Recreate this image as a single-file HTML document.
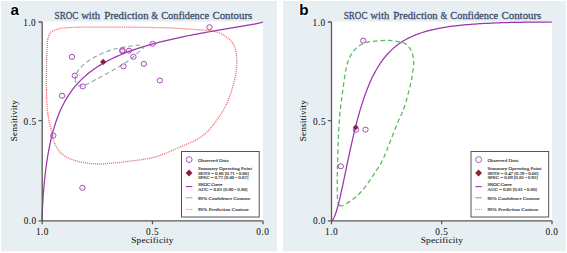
<!DOCTYPE html>
<html><head><meta charset="utf-8"><style>
html,body{margin:0;padding:0;background:#fff;width:567px;height:253px;overflow:hidden}
svg{position:absolute;left:0;top:0}
text{font-family:"Liberation Serif",serif}
.pl{font-family:"Liberation Sans",sans-serif;font-weight:bold;font-size:15.2px;fill:#000;stroke:#fff;stroke-width:2.2px;stroke-opacity:0.75;paint-order:stroke}
.ti{font-size:10.7px;fill:#3c4a6c;stroke:#3c4a6c;stroke-width:0.26px}
.tk{font-size:9.3px;letter-spacing:0.45px;fill:#111;stroke:#222;stroke-width:0.06px}
.al{font-size:9.2px;fill:#111;stroke:#222;stroke-width:0.06px}
.lg{font-size:5.0px;fill:#222;stroke:#222;stroke-width:0.1px}
</style></head><body>
<svg width="567" height="253" viewBox="0 0 567 253">
<rect x="1" y="1" width="276" height="250.5" fill="#e8eff2"/>
<rect x="283" y="1" width="282.8" height="250.5" fill="#e8eff2"/>
<rect x="42" y="21.6" width="221" height="199" fill="#fff"/>
<rect x="331.5" y="21.6" width="220.5" height="199" fill="#fff"/>
<text class="pl" x="10.5" y="14.8">a</text>
<text class="pl" x="299.3" y="15">b</text>
<text class="ti" x="54.60" y="18.8" textLength="23.87" lengthAdjust="spacingAndGlyphs">SROC</text><text class="ti" x="81.15" y="18.8" textLength="19.02" lengthAdjust="spacingAndGlyphs">with</text><text class="ti" x="104.20" y="18.8" textLength="44.39" lengthAdjust="spacingAndGlyphs">Prediction</text><text class="ti" x="151.35" y="18.8" textLength="6.78" lengthAdjust="spacingAndGlyphs">&amp;</text><text class="ti" x="161.20" y="18.8" textLength="47.82" lengthAdjust="spacingAndGlyphs">Confidence</text><text class="ti" x="212.40" y="18.8" textLength="39.85" lengthAdjust="spacingAndGlyphs">Contours</text>
<text class="ti" x="343.70" y="18.8" textLength="23.87" lengthAdjust="spacingAndGlyphs">SROC</text><text class="ti" x="370.25" y="18.8" textLength="19.02" lengthAdjust="spacingAndGlyphs">with</text><text class="ti" x="393.30" y="18.8" textLength="44.39" lengthAdjust="spacingAndGlyphs">Prediction</text><text class="ti" x="440.45" y="18.8" textLength="6.78" lengthAdjust="spacingAndGlyphs">&amp;</text><text class="ti" x="450.30" y="18.8" textLength="47.82" lengthAdjust="spacingAndGlyphs">Confidence</text><text class="ti" x="501.50" y="18.8" textLength="39.85" lengthAdjust="spacingAndGlyphs">Contours</text>
<!-- left plot -->
<path d="M46.50,90.00 C46.33,81.33 46.50,66.90 46.60,60.00 C46.70,53.10 46.93,51.83 47.10,48.60 C47.27,45.37 47.20,42.98 47.60,40.60 C48.00,38.22 48.65,35.88 49.50,34.30 C50.35,32.72 51.12,32.03 52.70,31.10 C54.28,30.17 56.35,29.28 59.00,28.70 C61.65,28.12 63.83,27.87 68.60,27.60 C73.37,27.33 79.03,27.18 87.60,27.10 C96.17,27.02 110.43,27.05 120.00,27.10 C129.57,27.15 137.07,27.27 145.00,27.40 C152.93,27.53 159.87,27.60 167.60,27.90 C175.33,28.20 183.53,28.60 191.40,29.20 C199.27,29.80 209.27,30.40 214.80,31.50 C220.33,32.60 221.80,34.10 224.60,35.80 C227.40,37.50 229.78,39.40 231.60,41.70 C233.42,44.00 234.63,46.63 235.50,49.60 C236.37,52.57 236.65,56.18 236.80,59.50 C236.95,62.82 237.00,65.20 236.40,69.50 C235.80,73.80 234.87,79.50 233.20,85.30 C231.53,91.10 229.52,97.97 226.40,104.30 C223.28,110.63 218.87,117.78 214.50,123.30 C210.13,128.82 206.68,133.12 200.20,137.40 C193.72,141.68 183.47,145.65 175.60,149.00 C167.73,152.35 160.93,155.43 153.00,157.50 C145.07,159.57 135.17,160.43 128.00,161.40 C120.83,162.37 115.45,162.88 110.00,163.30 C104.55,163.72 100.70,164.25 95.30,163.90 C89.90,163.55 82.90,162.65 77.60,161.20 C72.30,159.75 67.27,158.07 63.50,155.20 C59.73,152.33 57.10,148.45 55.00,144.00 C52.90,139.55 52.13,133.83 50.90,128.50 C49.67,123.17 48.33,118.42 47.60,112.00 C46.87,105.58 46.67,98.67 46.50,90.00 Z" fill="none" stroke="#f2636b" stroke-width="1.3" stroke-dasharray="1.05 0.95"/>
<path d="M75.30,80.60 C74.98,78.53 75.35,75.75 76.60,73.20 C77.85,70.65 79.63,68.07 82.80,65.30 C85.97,62.53 90.63,59.23 95.60,56.60 C100.57,53.97 106.92,51.23 112.60,49.50 C118.28,47.77 125.10,46.92 129.70,46.20 C134.30,45.48 137.82,45.07 140.20,45.20 C142.58,45.33 143.87,46.20 144.00,47.00 C144.13,47.80 143.38,47.87 141.00,50.00 C138.62,52.13 134.43,56.40 129.70,59.80 C124.97,63.20 118.28,67.10 112.60,70.40 C106.92,73.70 100.03,77.23 95.60,79.60 C91.17,81.97 88.85,83.60 86.00,84.60 C83.15,85.60 80.28,86.27 78.50,85.60 C76.72,84.93 75.62,82.67 75.30,80.60 Z" fill="none" stroke="#8fa9a4" stroke-width="1.1" stroke-dasharray="4.5 3"/>
<path d="M42.00,220.50 L42.00,220.14 L42.00,220.12 L42.01,220.09 L42.01,220.07 L42.01,220.04 L42.01,220.01 L42.01,219.98 L42.01,219.95 L42.01,219.92 L42.01,219.88 L42.01,219.84 L42.01,219.80 L42.01,219.76 L42.01,219.72 L42.01,219.67 L42.01,219.62 L42.02,219.56 L42.02,219.51 L42.02,219.44 L42.02,219.38 L42.02,219.31 L42.02,219.24 L42.02,219.16 L42.03,219.08 L42.03,218.99 L42.03,218.90 L42.03,218.80 L42.04,218.70 L42.04,218.59 L42.04,218.48 L42.04,218.35 L42.05,218.22 L42.05,218.08 L42.06,217.94 L42.06,217.78 L42.07,217.62 L42.07,217.44 L42.08,217.26 L42.08,217.06 L42.09,216.85 L42.10,216.64 L42.10,216.40 L42.11,216.16 L42.12,215.90 L42.13,215.62 L42.14,215.33 L42.15,215.02 L42.16,214.69 L42.18,214.34 L42.19,213.98 L42.21,213.59 L42.22,213.18 L42.24,212.75 L42.26,212.29 L42.28,211.81 L42.30,211.30 L42.33,210.76 L42.36,210.19 L42.38,209.59 L42.41,208.96 L42.45,208.29 L42.48,207.59 L42.52,206.85 L42.56,206.07 L42.61,205.25 L42.66,204.38 L42.71,203.47 L42.77,202.52 L42.83,201.51 L42.89,200.46 L42.97,199.36 L43.04,198.20 L43.13,196.98 L43.22,195.71 L43.31,194.38 L43.42,192.99 L43.53,191.53 L43.66,190.02 L43.79,188.43 L43.93,186.78 L44.09,185.06 L44.25,183.28 L44.43,181.42 L44.63,179.49 L44.84,177.49 L45.07,175.42 L45.31,173.28 L45.58,171.06 L45.86,168.77 L46.17,166.42 L46.50,163.99 L46.86,161.49 L47.25,158.93 L47.67,156.31 L48.13,153.62 L48.62,150.87 L49.15,148.06 L49.72,145.20 L50.34,142.28 L51.00,139.32 L51.72,136.32 L52.50,133.27 L53.34,130.19 L55.55,122.96 L57.76,116.74 L59.97,111.31 L62.18,106.51 L64.39,102.21 L66.60,98.34 L68.81,94.83 L71.02,91.62 L73.23,88.68 L75.44,85.96 L77.65,83.44 L79.86,81.09 L82.07,78.90 L84.28,76.85 L86.49,74.92 L88.70,73.10 L90.91,71.39 L93.12,69.76 L95.33,68.22 L97.54,66.76 L99.75,65.36 L101.96,64.03 L104.17,62.76 L106.38,61.55 L108.59,60.39 L110.80,59.27 L113.01,58.20 L115.22,57.16 L117.43,56.17 L119.64,55.21 L121.85,54.29 L124.06,53.40 L126.27,52.53 L128.48,51.70 L130.69,50.89 L132.90,50.11 L135.11,49.35 L137.32,48.61 L139.53,47.89 L141.74,47.19 L143.95,46.51 L146.16,45.85 L148.37,45.21 L150.58,44.58 L152.79,43.96 L155.00,43.37 L157.21,42.78 L159.42,42.21 L161.63,41.65 L163.84,41.10 L166.05,40.57 L168.26,40.05 L170.47,39.53 L172.68,39.03 L174.89,38.53 L177.10,38.05 L179.31,37.57 L181.52,37.10 L183.73,36.64 L185.94,36.19 L188.15,35.74 L190.36,35.30 L192.57,34.87 L194.78,34.44 L196.99,34.02 L199.20,33.61 L201.41,33.20 L203.62,32.79 L205.83,32.39 L208.04,32.00 L210.25,31.60 L212.46,31.22 L214.67,30.83 L216.88,30.45 L219.09,30.07 L221.30,29.70 L223.51,29.32 L225.72,28.95 L227.93,28.58 L230.14,28.21 L232.35,27.84 L234.56,27.48 L236.77,27.11 L238.98,26.74 L241.19,26.37 L243.40,25.99 L245.61,25.62 L247.82,25.23 L250.03,24.85 L252.24,24.45 L254.45,24.04 L256.66,23.60 L258.87,23.14 L261.08,22.63 L263.00,22.00" fill="none" stroke="#9a36aa" stroke-width="1.25"/>
<ellipse cx="71.9" cy="56.9" rx="2.7" ry="2.5" fill="none" stroke="#a848b8" stroke-width="1.0"/><circle cx="71.9" cy="56.9" r="0.6" fill="#a848b8" opacity="0.35"/><ellipse cx="74.8" cy="75.6" rx="2.7" ry="2.5" fill="none" stroke="#a848b8" stroke-width="1.0"/><circle cx="74.8" cy="75.6" r="0.6" fill="#a848b8" opacity="0.35"/><ellipse cx="82.7" cy="86.4" rx="2.7" ry="2.5" fill="none" stroke="#a848b8" stroke-width="1.0"/><circle cx="82.7" cy="86.4" r="0.6" fill="#a848b8" opacity="0.35"/><ellipse cx="53.3" cy="135.6" rx="2.7" ry="2.5" fill="none" stroke="#a848b8" stroke-width="1.0"/><circle cx="53.3" cy="135.6" r="0.6" fill="#a848b8" opacity="0.35"/><ellipse cx="62" cy="95.7" rx="2.7" ry="2.5" fill="none" stroke="#a848b8" stroke-width="1.0"/><circle cx="62" cy="95.7" r="0.6" fill="#a848b8" opacity="0.35"/><ellipse cx="82.4" cy="187.8" rx="2.7" ry="2.5" fill="none" stroke="#a848b8" stroke-width="1.0"/><circle cx="82.4" cy="187.8" r="0.6" fill="#a848b8" opacity="0.35"/><ellipse cx="122.2" cy="50.4" rx="2.7" ry="2.5" fill="none" stroke="#a848b8" stroke-width="1.0"/><circle cx="122.2" cy="50.4" r="0.6" fill="#a848b8" opacity="0.35"/><ellipse cx="122.6" cy="51.3" rx="2.7" ry="2.5" fill="none" stroke="#a848b8" stroke-width="1.0"/><circle cx="122.6" cy="51.3" r="0.6" fill="#a848b8" opacity="0.35"/><ellipse cx="129" cy="50.7" rx="2.7" ry="2.5" fill="none" stroke="#a848b8" stroke-width="1.0"/><circle cx="129" cy="50.7" r="0.6" fill="#a848b8" opacity="0.35"/><ellipse cx="133.4" cy="56.8" rx="2.7" ry="2.5" fill="none" stroke="#a848b8" stroke-width="1.0"/><circle cx="133.4" cy="56.8" r="0.6" fill="#a848b8" opacity="0.35"/><ellipse cx="123.5" cy="66.3" rx="2.7" ry="2.5" fill="none" stroke="#a848b8" stroke-width="1.0"/><circle cx="123.5" cy="66.3" r="0.6" fill="#a848b8" opacity="0.35"/><ellipse cx="143.9" cy="63.9" rx="2.7" ry="2.5" fill="none" stroke="#a848b8" stroke-width="1.0"/><circle cx="143.9" cy="63.9" r="0.6" fill="#a848b8" opacity="0.35"/><ellipse cx="152.7" cy="43.8" rx="2.7" ry="2.5" fill="none" stroke="#a848b8" stroke-width="1.0"/><circle cx="152.7" cy="43.8" r="0.6" fill="#a848b8" opacity="0.35"/><ellipse cx="159.9" cy="80.5" rx="2.7" ry="2.5" fill="none" stroke="#a848b8" stroke-width="1.0"/><circle cx="159.9" cy="80.5" r="0.6" fill="#a848b8" opacity="0.35"/><ellipse cx="209.5" cy="27.2" rx="2.7" ry="2.5" fill="none" stroke="#a848b8" stroke-width="1.0"/><circle cx="209.5" cy="27.2" r="0.6" fill="#a848b8" opacity="0.35"/>
<path d="M103.2,58.699999999999996 L106.4,61.9 L103.2,65.1 L100.0,61.9 Z" fill="#85203d"/>
<!-- right plot -->
<path d="M340.20,205.60 C338.68,205.08 338.20,203.93 337.70,200.50 C337.20,197.07 337.23,190.92 337.20,185.00 C337.17,179.08 337.32,172.50 337.50,165.00 C337.68,157.50 337.97,147.83 338.30,140.00 C338.63,132.17 339.05,124.17 339.50,118.00 C339.95,111.83 340.48,107.33 341.00,103.00 C341.52,98.67 342.02,96.17 342.60,92.00 C343.18,87.83 343.80,82.42 344.50,78.00 C345.20,73.58 345.83,69.17 346.80,65.50 C347.77,61.83 348.82,58.82 350.30,56.00 C351.78,53.18 353.75,50.55 355.70,48.60 C357.65,46.65 359.53,45.47 362.00,44.30 C364.47,43.13 366.12,42.27 370.50,41.60 C374.88,40.93 382.88,40.12 388.30,40.30 C393.72,40.48 399.72,41.72 403.00,42.70 C406.28,43.68 406.63,44.87 408.00,46.20 C409.37,47.53 410.35,48.95 411.20,50.70 C412.05,52.45 412.70,54.38 413.10,56.70 C413.50,59.02 413.75,61.38 413.60,64.60 C413.45,67.82 412.77,72.43 412.20,76.00 C411.63,79.57 411.60,80.58 410.20,86.00 C408.80,91.42 405.92,102.33 403.80,108.50 C401.68,114.67 399.80,117.42 397.50,123.00 C395.20,128.58 392.42,135.95 390.00,142.00 C387.58,148.05 385.28,154.52 383.00,159.30 C380.72,164.08 379.88,165.35 376.30,170.70 C372.72,176.05 366.42,185.92 361.50,191.40 C356.58,196.88 350.35,201.23 346.80,203.60 C343.25,205.97 341.72,206.12 340.20,205.60 Z" fill="none" stroke="#58b858" stroke-width="1.25" stroke-dasharray="4.5 3"/>
<path d="M331.50,220.50 L331.50,220.50 L331.50,220.50 L331.51,220.50 L331.51,220.50 L331.51,220.50 L331.51,220.50 L331.51,220.50 L331.51,220.50 L331.51,220.50 L331.51,220.50 L331.51,220.50 L331.51,220.50 L331.51,220.50 L331.51,220.50 L331.51,220.50 L331.51,220.50 L331.52,220.50 L331.52,220.50 L331.52,220.50 L331.52,220.50 L331.52,220.50 L331.52,220.50 L331.52,220.50 L331.53,220.50 L331.53,220.50 L331.53,220.50 L331.53,220.50 L331.54,220.50 L331.54,220.50 L331.54,220.50 L331.54,220.50 L331.55,220.50 L331.55,220.50 L331.56,220.50 L331.56,220.50 L331.57,220.49 L331.57,220.49 L331.58,220.49 L331.58,220.49 L331.59,220.49 L331.60,220.49 L331.60,220.49 L331.61,220.49 L331.62,220.48 L331.63,220.48 L331.64,220.48 L331.65,220.48 L331.66,220.47 L331.68,220.47 L331.69,220.46 L331.71,220.46 L331.72,220.45 L331.74,220.45 L331.76,220.44 L331.78,220.43 L331.80,220.42 L331.83,220.41 L331.85,220.40 L331.88,220.38 L331.91,220.37 L331.95,220.35 L331.98,220.32 L332.02,220.30 L332.06,220.27 L332.11,220.24 L332.16,220.20 L332.21,220.16 L332.27,220.11 L332.33,220.06 L332.39,219.99 L332.46,219.92 L332.54,219.84 L332.62,219.75 L332.71,219.64 L332.81,219.52 L332.92,219.38 L333.03,219.22 L333.15,219.04 L333.28,218.83 L333.43,218.60 L333.58,218.33 L333.75,218.02 L333.93,217.67 L334.12,217.27 L334.33,216.82 L334.56,216.30 L334.80,215.71 L335.07,215.04 L335.35,214.28 L335.66,213.41 L335.99,212.43 L336.35,211.31 L336.74,210.05 L337.16,208.62 L337.61,207.01 L338.10,205.19 L338.63,203.15 L339.20,200.85 L339.82,198.28 L340.48,195.42 L341.20,192.23 L341.98,188.70 L342.82,184.80 L345.02,174.30 L347.23,163.72 L349.43,153.32 L351.64,143.31 L353.84,133.80 L356.05,124.87 L358.25,116.57 L360.46,108.89 L362.66,101.83 L364.87,95.35 L367.07,89.43 L369.28,84.02 L371.48,79.08 L373.69,74.58 L375.89,70.48 L378.10,66.73 L380.30,63.31 L382.51,60.19 L384.71,57.34 L386.92,54.73 L389.12,52.33 L391.33,50.14 L393.53,48.13 L395.74,46.27 L397.94,44.57 L400.15,43.00 L402.35,41.55 L404.56,40.22 L406.76,38.98 L408.97,37.84 L411.17,36.78 L413.38,35.80 L415.58,34.89 L417.79,34.04 L419.99,33.25 L422.20,32.52 L424.40,31.83 L426.61,31.20 L428.81,30.60 L431.02,30.05 L433.22,29.53 L435.43,29.04 L437.63,28.59 L439.84,28.17 L442.04,27.77 L444.25,27.39 L446.45,27.04 L448.66,26.72 L450.86,26.41 L453.07,26.12 L455.27,25.85 L457.48,25.59 L459.68,25.35 L461.89,25.13 L464.09,24.91 L466.30,24.71 L468.50,24.53 L470.71,24.35 L472.91,24.18 L475.12,24.03 L477.32,23.88 L479.53,23.74 L481.73,23.61 L483.94,23.49 L486.14,23.37 L488.35,23.26 L490.55,23.16 L492.76,23.07 L494.96,22.98 L497.17,22.89 L499.37,22.81 L501.58,22.74 L503.78,22.67 L505.99,22.60 L508.19,22.54 L510.40,22.49 L512.60,22.43 L514.81,22.38 L517.01,22.34 L519.22,22.30 L521.42,22.26 L523.63,22.22 L525.83,22.19 L528.04,22.16 L530.24,22.13 L532.45,22.11 L534.65,22.09 L536.86,22.07 L539.06,22.05 L541.27,22.04 L543.47,22.02 L545.68,22.01 L547.88,22.01 L550.09,22.00 L552.00,22.00" fill="none" stroke="#9a36aa" stroke-width="1.25"/>
<ellipse cx="363.2" cy="40.6" rx="2.7" ry="2.5" fill="none" stroke="#a848b8" stroke-width="1.0"/><circle cx="363.2" cy="40.6" r="0.6" fill="#a848b8" opacity="0.35"/><ellipse cx="355.9" cy="129.8" rx="2.7" ry="2.5" fill="none" stroke="#a848b8" stroke-width="1.0"/><circle cx="355.9" cy="129.8" r="0.6" fill="#a848b8" opacity="0.35"/><ellipse cx="365.5" cy="129.6" rx="2.7" ry="2.5" fill="none" stroke="#a848b8" stroke-width="1.0"/><circle cx="365.5" cy="129.6" r="0.6" fill="#a848b8" opacity="0.35"/><ellipse cx="340.8" cy="166.3" rx="2.7" ry="2.5" fill="none" stroke="#a848b8" stroke-width="1.0"/><circle cx="340.8" cy="166.3" r="0.6" fill="#a848b8" opacity="0.35"/>
<path d="M355.7,124.39999999999999 L358.59999999999997,127.3 L355.7,130.2 L352.8,127.3 Z" fill="#85203d"/>
<!-- axes -->
<g stroke="#5a5a5a" stroke-width="1.3" fill="none">
<path d="M42.2,22 V220.8 H263 M38.5,22 H42.2 M38.5,120.7 H42.2 M38.5,220.8 H42.2 M42.2,220.8 V224.3 M152.5,220.8 V224.3 M263,220.8 V224.3"/>
<path d="M331.5,22 V220.8 H552 M327.8,22 H331.5 M327.8,120.7 H331.5 M327.8,220.8 H331.5 M331.5,220.8 V224.3 M441.7,220.8 V224.3 M552,220.8 V224.3"/>
</g>
<g class="tk">
<text x="36.2" y="25.9" text-anchor="end">1.0</text>
<text x="36.6" y="124.7" text-anchor="end">0.5</text>
<text x="36.7" y="224.4" text-anchor="end">0.0</text>
<text x="42.5" y="234.6" text-anchor="middle">1.0</text>
<text x="152.6" y="234.8" text-anchor="middle">0.5</text>
<text x="262.8" y="234.6" text-anchor="middle">0.0</text>
<text x="325.6" y="25.8" text-anchor="end">1.0</text>
<text x="326" y="124.7" text-anchor="end">0.5</text>
<text x="325.9" y="224.4" text-anchor="end">0.0</text>
<text x="331.6" y="234.6" text-anchor="middle">1.0</text>
<text x="441.8" y="234.8" text-anchor="middle">0.5</text>
<text x="552" y="234.6" text-anchor="middle">0.0</text>
</g>
<g class="al">
<text x="152.3" y="243" text-anchor="middle" textLength="42.2" lengthAdjust="spacing">Specificity</text>
<text x="441.8" y="243" text-anchor="middle" textLength="42.2" lengthAdjust="spacing">Specificity</text>
<text transform="translate(17.3,120.7) rotate(-90)" text-anchor="middle" textLength="41" lengthAdjust="spacing">Sensitivity</text>
<text transform="translate(306.3,120.7) rotate(-90)" text-anchor="middle" textLength="41" lengthAdjust="spacing">Sensitivity</text>
</g>
<rect x="181.5" y="151.5" width="77.7" height="65.5" fill="#fff" stroke="#555" stroke-width="1"/><circle cx="189.1" cy="159.6" r="2.95" fill="none" stroke="#ad55bd" stroke-width="1.0"/><path d="M189.1,169.6 L192.5,173.0 L189.1,176.4 L185.7,173.0 Z" fill="#85203d"/><path d="M185.9,186.6 H192.29999999999998" stroke="#9a36aa" stroke-width="1.1"/><path d="M185.9,197.8 H192.29999999999998" stroke="#8fa9a4" stroke-width="1"/><path d="M185.9,209.4 H192.29999999999998" stroke="#f2636b" stroke-width="1" stroke-dasharray="0.9 0.9"/><g class="lg">
<text x="197.9" y="161.5" textLength="30.9" lengthAdjust="spacing">Observed Data</text>
<text x="197.9" y="170.1" textLength="53.9" lengthAdjust="spacing">Summary Operating Point</text>
<text x="197.9" y="174.7" textLength="51" lengthAdjust="spacing">SENS = 0.80 [0.71 - 0.86]</text>
<text x="197.9" y="179.2" textLength="50.4" lengthAdjust="spacing">SPEC = 0.72 [0.60 - 0.82]</text>
<text x="197.9" y="186.2" textLength="24.7" lengthAdjust="spacing">SROC Curve</text>
<text x="197.9" y="190.9" textLength="49.6" lengthAdjust="spacing">AUC = 0.83 [0.80 - 0.86]</text>
<text x="197.9" y="199.6" textLength="52.3" lengthAdjust="spacing">95% Confidence Contour</text>
<text x="197.9" y="211.1" textLength="50.8" lengthAdjust="spacing">95% Prediction Contour</text>
</g><rect x="471.0" y="151.5" width="77.7" height="65.5" fill="#fff" stroke="#555" stroke-width="1"/><circle cx="478.6" cy="159.6" r="2.95" fill="none" stroke="#ad55bd" stroke-width="1.0"/><path d="M478.6,169.6 L482.0,173.0 L478.6,176.4 L475.20000000000005,173.0 Z" fill="#85203d"/><path d="M475.40000000000003,186.6 H481.8" stroke="#9a36aa" stroke-width="1.1"/><path d="M475.40000000000003,197.8 H481.8" stroke="#58b858" stroke-width="1"/><path d="M475.40000000000003,209.4 H481.8" stroke="#f2636b" stroke-width="1" stroke-dasharray="0.9 0.9"/><g class="lg">
<text x="487.4" y="161.5" textLength="30.9" lengthAdjust="spacing">Observed Data</text>
<text x="487.4" y="170.1" textLength="53.9" lengthAdjust="spacing">Summary Operating Point</text>
<text x="487.4" y="174.7" textLength="51" lengthAdjust="spacing">SENS = 0.47 [0.29 - 0.66]</text>
<text x="487.4" y="179.2" textLength="50.4" lengthAdjust="spacing">SPEC = 0.89 [0.83 - 0.93]</text>
<text x="487.4" y="186.2" textLength="24.7" lengthAdjust="spacing">SROC Curve</text>
<text x="487.4" y="190.9" textLength="49.6" lengthAdjust="spacing">AUC = 0.85 [0.81 - 0.88]</text>
<text x="487.4" y="199.6" textLength="52.3" lengthAdjust="spacing">95% Confidence Contour</text>
<text x="487.4" y="211.1" textLength="50.8" lengthAdjust="spacing">95% Prediction Contour</text>
</g></svg></body></html>
